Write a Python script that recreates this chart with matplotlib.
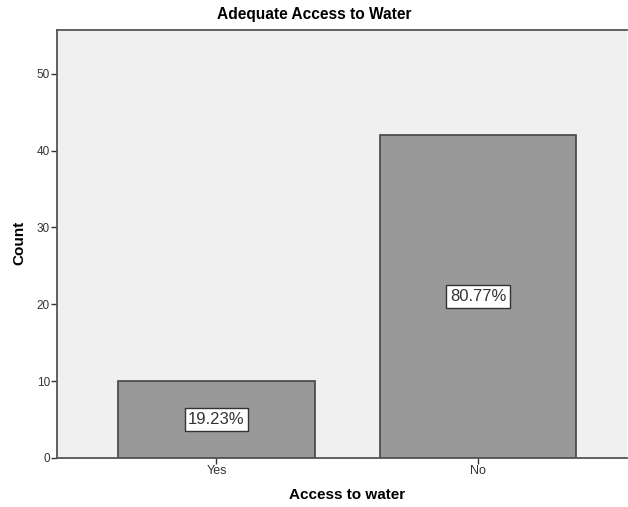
import matplotlib
matplotlib.use("Agg")
import matplotlib.pyplot as plt

categories = ["Yes", "No"]
counts = [10, 42]
percent_labels = ["19.23%", "80.77%"]
yticks = [0, 10, 20, 30, 40, 50]

plt.rcParams['font.family'] = ['Liberation Sans', 'DejaVu Sans']

fig = plt.figure(figsize=(6.28, 5.07), dpi=100)
ax = fig.add_axes([57/628, 49/507, 570/628, 428/507])
ax.set_facecolor("#f0f0f0")

x = list(range(len(categories)))
ax.bar(x, counts, width=0.753, color="#999999", edgecolor="#444444", linewidth=1.2, zorder=2)
for xi, c, lab in zip(x, counts, percent_labels):
    ax.text(xi, c / 2, lab, ha="center", va="center", fontsize=12, color="#333333",
            bbox=dict(boxstyle="square,pad=0.22", fc="white", ec="#333333", lw=1), zorder=3)

ax.set_xlim(-0.61, 1.57)
ax.set_ylim(0, 55.7)
ax.set_xticks(x)
ax.set_xticklabels(categories, fontsize=9, color="#333333")
ax.set_yticks(yticks)
ax.set_yticklabels([str(t) for t in yticks], fontsize=8.5, color="#333333")
ax.tick_params(axis="both", direction="out", length=4, width=1, color="#333333", pad=1)

for side in ["left", "bottom", "top"]:
    ax.spines[side].set_color("#555555")
    ax.spines[side].set_linewidth(1.3)
ax.spines["right"].set_visible(False)

fig.text(314/628, 1 - 15/507, "Adequate Access to Water", ha="center", va="center",
         fontsize=11.2, fontweight="bold")
fig.text(347/628, 1 - 495/507, "Access to water", ha="center", va="center",
         fontsize=11, fontweight="bold")
fig.text(19/628, 1 - 243/507, "Count", ha="center", va="center", rotation=90,
         fontsize=11, fontweight="bold")

fig.savefig("out.png", dpi=100)
